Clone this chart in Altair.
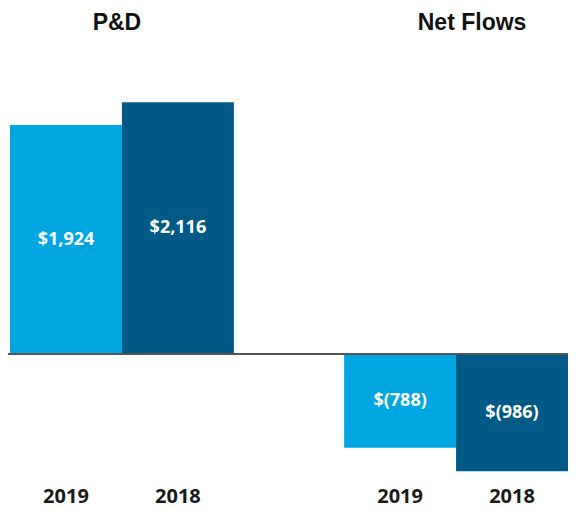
import altair as alt
import pandas as pd

groups = ["P&D", "P&D", "Net Flows", "Net Flows"]
years = ["2019", "2018", "2019", "2018"]
values = [1924, 2116, -788, -986]
labels = ["$1,924", "$2,116", "$(788)", "$(986)"]

group_order = ["P&D", "Net Flows"]
year_order = ["2019", "2018"]
colors = ["#00A6E2", "#005A85"]

df = pd.DataFrame({"group": groups, "year": years, "value": values, "label": labels})
df["mid"] = df["value"] / 2
titles = pd.DataFrame({"group": group_order})

W, H = 558, 500

xenc = alt.X("group:N", scale=alt.Scale(domain=group_order, paddingInner=0.33, paddingOuter=0), axis=None)
xoff = alt.XOffset("year:N", scale=alt.Scale(domain=year_order, paddingInner=0, paddingOuter=0))
yscale = alt.Scale(domain=[-1294, 2908], nice=False, zero=False)

bars = alt.Chart(df).mark_bar().encode(
    x=xenc, xOffset=xoff,
    y=alt.Y("value:Q", scale=yscale, axis=None),
    y2=alt.datum(0),
    color=alt.Color("year:N", scale=alt.Scale(domain=year_order, range=colors), legend=None),
)

vals = alt.Chart(df).mark_text(font="Open Sans", fontSize=18, fontWeight="bold", color="white").encode(
    x=xenc, xOffset=xoff,
    y=alt.Y("mid:Q", scale=yscale),
    text="label:N",
)

yrs = alt.Chart(df).mark_text(font="Open Sans", fontSize=20, fontWeight="bold", color="#1a1a1a").encode(
    x=xenc, xOffset=xoff,
    y=alt.value(489),
    text="year:N",
)

zero = alt.Chart(df).mark_rule(color="#555555", strokeWidth=2).encode(
    y=alt.Y("z:Q", scale=yscale),
    x=alt.value(-2), x2=alt.value(W),
).transform_calculate(z="0")

t1 = alt.Chart(titles).transform_filter(alt.datum.group == "P&D").mark_text(
    font="Liberation Sans", fontSize=23, fontWeight="bold", color="#111111", dx=-5
).encode(x=xenc, y=alt.value(15), text="group:N")
t2 = alt.Chart(titles).transform_filter(alt.datum.group == "Net Flows").mark_text(
    font="Liberation Sans", fontSize=23, fontWeight="bold", color="#111111", dx=16
).encode(x=xenc, y=alt.value(15), text="group:N")

chart = alt.layer(bars, zero, vals, yrs, t1, t2).properties(
    width=W, height=H,
    autosize=alt.AutoSizeParams(type="none"),
    padding={"left": 2, "top": 0, "right": 0, "bottom": 0},
).configure_view(stroke=None)

chart.save("out.html", embed_options={"renderer": "svg", "actions": False})
